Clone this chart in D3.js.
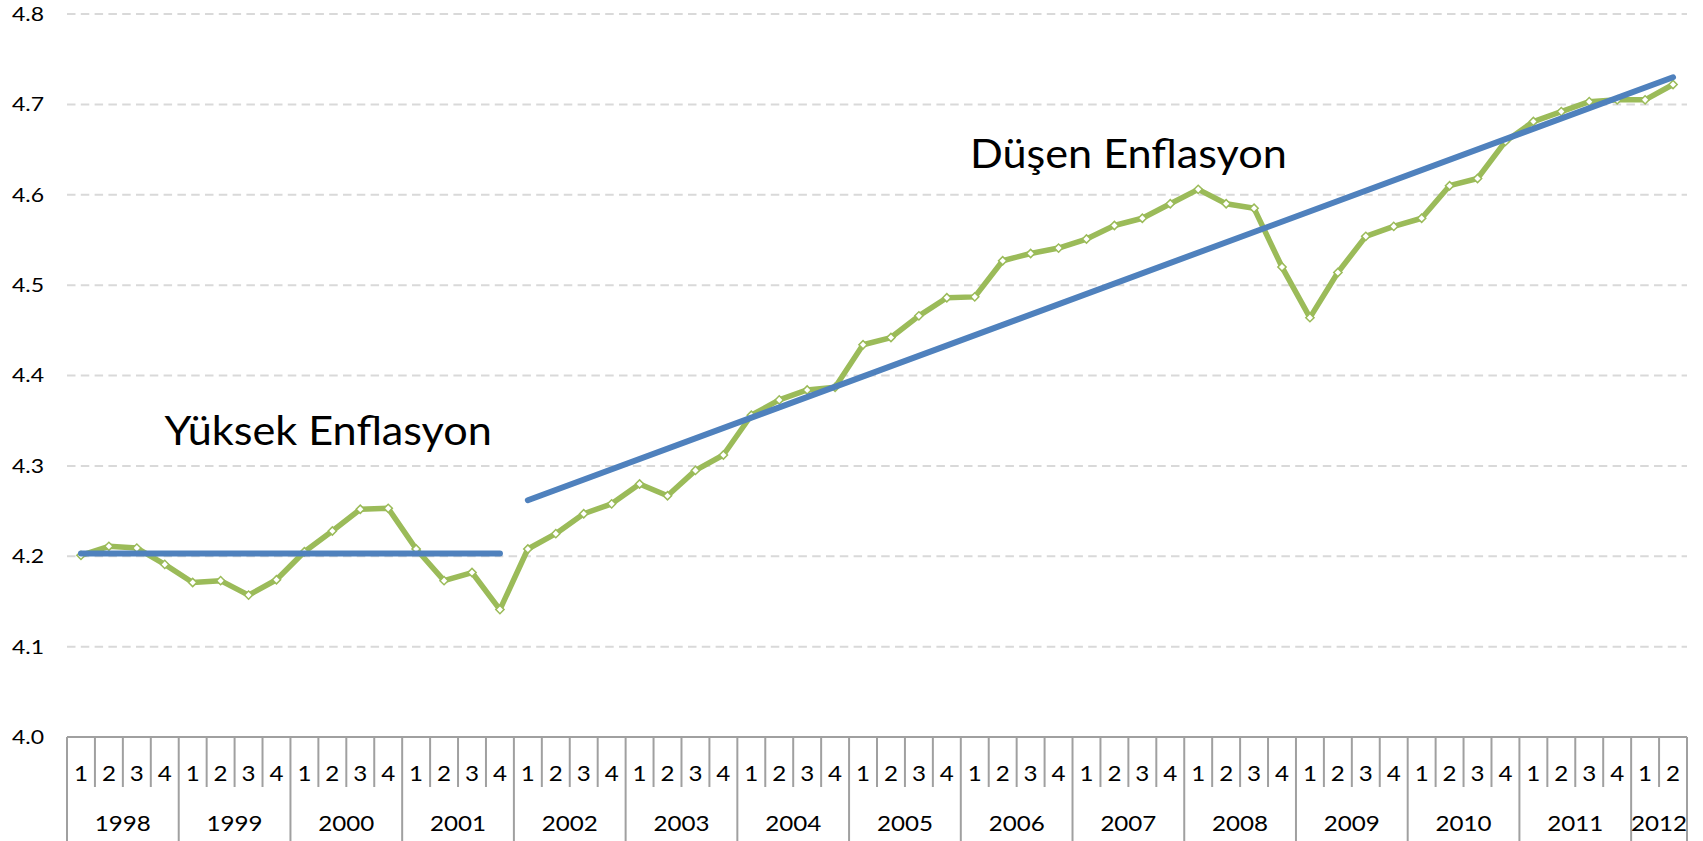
<!DOCTYPE html>
<html>
<head>
<meta charset="UTF-8">
<script src="https://cdn.jsdelivr.net/npm/d3@7"></script>
<style>
  * { margin: 0; padding: 0; box-sizing: border-box; }
  html, body { width: 1703px; height: 841px; background: #fff; overflow: hidden; }
  svg { display: block; font-family: Lato, "Open Sans", sans-serif; }
  .stretch { transform-box: fill-box; transform-origin: center; transform: scaleX(1.15); }
  .note { transform-box: fill-box; transform-origin: center; transform: scaleX(1.08); }
</style>
</head>
<body>
<svg id="chart" width="1703" height="841"></svg>
<script>
// --- data ---
var years = [1998, 1999, 2000, 2001, 2002, 2003, 2004, 2005, 2006, 2007, 2008, 2009, 2010, 2011, 2012];
var quartersInYear = [4, 4, 4, 4, 4, 4, 4, 4, 4, 4, 4, 4, 4, 4, 2];
var series = [
  4.201, 4.211, 4.209, 4.191,
  4.171, 4.173, 4.157, 4.174,
  4.205, 4.228, 4.252, 4.253,
  4.208, 4.173, 4.182, 4.141,
  4.208, 4.225, 4.247, 4.258,
  4.280, 4.267, 4.295, 4.312,
  4.356, 4.373, 4.384, 4.387,
  4.434, 4.442, 4.466, 4.486,
  4.487, 4.527, 4.535, 4.541,
  4.551, 4.566, 4.574, 4.590,
  4.606, 4.590, 4.585, 4.520,
  4.464, 4.514, 4.554, 4.565,
  4.574, 4.610, 4.618, 4.659,
  4.681, 4.692, 4.703, 4.705,
  4.705, 4.722
];
var trendHighInflation = { cats: ["1998-1", "2001-4"], vals: [4.203, 4.203] };
var trendFallingInflation = { cats: ["2002-1", "2012-2"], vals: [4.262, 4.730] };
var yTicks = [4.0, 4.1, 4.2, 4.3, 4.4, 4.5, 4.6, 4.7, 4.8];

// categories "year-quarter"
var categories = [];
years.forEach(function(y, i) {
  for (var q = 1; q <= quartersInYear[i]; q++) categories.push(y + "-" + q);
});
var points = categories.map(function(c, i) { return { cat: c, v: series[i] }; });

var plotLeft = 67, plotRight = 1687, plotTop = 14, plotBottom = 737;
var svg = d3.select("#chart");

var x = d3.scaleBand().domain(categories).range([plotLeft, plotRight]).padding(0);
var y = d3.scaleLinear().domain([4.0, 4.8]).range([plotBottom, plotTop]);
var bw = x.bandwidth();
function cx(c) { return x(c) + bw / 2; }

// gridlines
svg.append("g")
  .selectAll("line")
  .data(yTicks.filter(function(t) { return t > 4.0; }))
  .enter().append("line")
  .attr("x1", plotLeft).attr("x2", plotRight)
  .attr("y1", function(d) { return y(d); }).attr("y2", function(d) { return y(d); })
  .attr("stroke", "#d9d9d9").attr("stroke-width", 2)
  .attr("stroke-dasharray", "8.5,5.3");

// y axis labels
var yAxis = svg.append("g")
  .attr("transform", "translate(" + (plotLeft - 25) + ",0)")
  .call(d3.axisLeft(y).tickValues(yTicks).tickSize(0).tickPadding(0).tickFormat(d3.format(".1f")));
yAxis.select(".domain").remove();
yAxis.selectAll("text")
  .attr("font-size", 20).attr("fill", "#000").attr("font-family", "Lato")
  .attr("class", "stretch");

// category axis (two levels)
var axisG = svg.append("g").attr("stroke", "#a0a0a0").attr("stroke-width", 2);
axisG.append("line").attr("x1", plotLeft).attr("x2", plotRight).attr("y1", plotBottom).attr("y2", plotBottom);

var qRowBottom = 787, yRowBottom = 841;
var yearGroups = [];
var idx = 0;
years.forEach(function(yr, i) {
  yearGroups.push({ year: yr, first: categories[idx], last: categories[idx + quartersInYear[i] - 1] });
  idx += quartersInYear[i];
});
var yearFirst = yearGroups.map(function(d) { return d.first; });

// separators between quarters
axisG.selectAll(".qsep")
  .data(categories.filter(function(c) { return yearFirst.indexOf(c) < 0; }))
  .enter().append("line")
  .attr("x1", function(c) { return x(c); }).attr("x2", function(c) { return x(c); })
  .attr("y1", plotBottom).attr("y2", qRowBottom);
// separators between years
axisG.selectAll(".ysep")
  .data(yearFirst.map(function(c) { return x(c); }).concat([plotRight]))
  .enter().append("line")
  .attr("x1", function(d) { return d; }).attr("x2", function(d) { return d; })
  .attr("y1", plotBottom).attr("y2", yRowBottom);

svg.append("g").selectAll("text")
  .data(categories)
  .enter().append("text")
  .attr("class", "stretch")
  .attr("x", function(c) { return cx(c); })
  .attr("y", 773)
  .attr("text-anchor", "middle").attr("dominant-baseline", "central")
  .attr("font-size", 21).attr("fill", "#000")
  .text(function(c) { return c.split("-")[1]; });

svg.append("g").selectAll("text")
  .data(yearGroups)
  .enter().append("text")
  .attr("class", "stretch")
  .attr("x", function(d) { return (x(d.first) + x(d.last) + bw) / 2; })
  .attr("y", 823)
  .attr("text-anchor", "middle").attr("dominant-baseline", "central")
  .attr("font-size", 21).attr("fill", "#000")
  .text(function(d) { return d.year; });

// main series
var line = d3.line().x(function(d) { return cx(d.cat); }).y(function(d) { return y(d.v); });
svg.append("path")
  .datum(points)
  .attr("d", line)
  .attr("fill", "none").attr("stroke", "#9bbb59").attr("stroke-width", 5.5)
  .attr("stroke-linejoin", "round");

svg.append("g").selectAll("path")
  .data(points)
  .enter().append("path")
  .attr("d", d3.symbol().type(d3.symbolSquare).size(34))
  .attr("transform", function(d) { return "translate(" + cx(d.cat) + "," + y(d.v) + ") rotate(45)"; })
  .attr("fill", "#fff").attr("stroke", "#9bbb59").attr("stroke-width", 1.5);

// trend lines
[trendHighInflation, trendFallingInflation].forEach(function(t) {
  svg.append("path")
    .datum(t.cats.map(function(c, i) { return { cat: c, v: t.vals[i] }; }))
    .attr("d", line)
    .attr("fill", "none").attr("stroke", "#4f81bd").attr("stroke-width", 6)
    .attr("stroke-linecap", "round");
});

// annotations
function xAt(t) { return plotLeft + t * x.step(); }
svg.append("text")
  .attr("class", "note")
  .attr("x", xAt(9.35)).attr("y", y(4.323))
  .attr("text-anchor", "middle").attr("font-size", 40).attr("fill", "#000")
  .text("Yüksek Enflasyon");
svg.append("text")
  .attr("class", "note")
  .attr("x", xAt(38.0)).attr("y", y(4.6296))
  .attr("text-anchor", "middle").attr("font-size", 40).attr("fill", "#000")
  .text("Düşen Enflasyon");
</script>
</body>
</html>
